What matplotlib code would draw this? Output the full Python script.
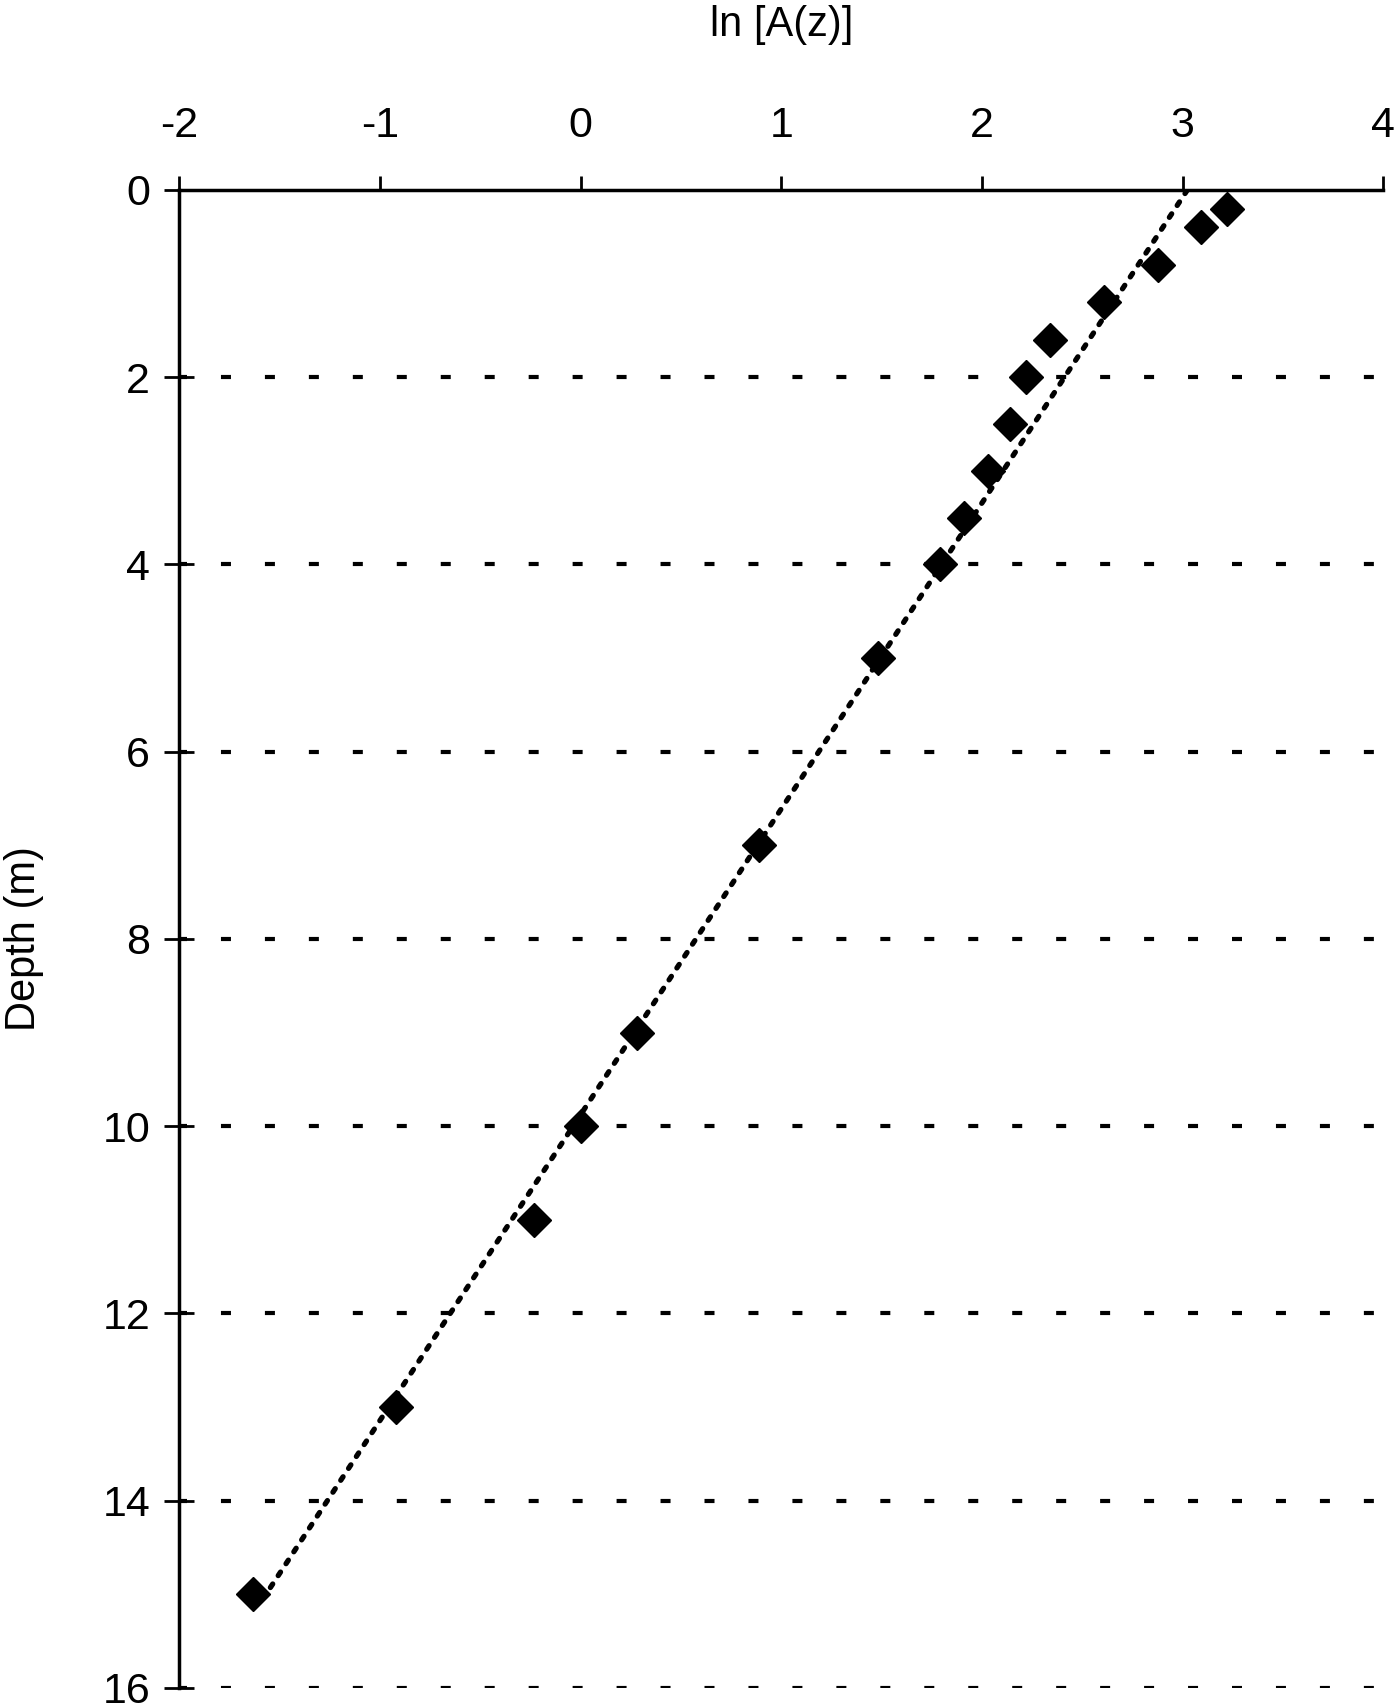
import numpy as np
import matplotlib
matplotlib.use("Agg")
import matplotlib.pyplot as plt

plt.rcParams['font.family'] = ['Liberation Sans', 'DejaVu Sans']
plt.rcParams['axes.unicode_minus'] = False

depth = [0.2, 0.4, 0.8, 1.2, 1.6, 2.0, 2.5, 3.0, 3.5, 4.0, 5.0, 7.0, 9.0, 10.0, 11.0, 13.0, 15.0]
ln_a = [3.22, 3.09, 2.88, 2.61, 2.34, 2.22, 2.14, 2.03, 1.91, 1.79, 1.48, 0.89, 0.28, 0.0, -0.23, -0.92, -1.63]

x_ticks = [-2, -1, 0, 1, 2, 3, 4]
y_ticks = [0, 2, 4, 6, 8, 10, 12, 14, 16]
fit_range = [0, 15]

fig = plt.figure(figsize=(14, 17.04), dpi=100)
ax = fig.add_axes([0.128, 0.0094, 0.86, 0.8791])

# linear trend of ln A against depth
slope, icpt = np.polyfit(depth, ln_a, 1)
zz = np.array(fit_range, dtype=float)
ax.plot(icpt + slope * zz, zz, color='black', lw=3.8, linestyle=(0, (0.8, 1.9)),
        dash_capstyle='round', zorder=2)

ax.plot(ln_a, depth, linestyle='none', marker='D', ms=17, color='black', zorder=3)

# dashed horizontal grid
for yy in y_ticks[1:]:
    ax.axhline(yy, color='black', lw=3, linestyle=(0.48, (2.4, 8.15)), zorder=1)

ax.set_xlim(-2, 4)
ax.set_ylim(16, 0)
ax.set_xticks(x_ticks)
ax.set_yticks(y_ticks)
ax.xaxis.tick_top()
ax.xaxis.set_label_position('top')
ax.tick_params(axis='x', direction='out', length=10, width=2, labelsize=31, pad=22)
ax.tick_params(axis='y', direction='inout', length=22, width=2, labelsize=31, pad=10)

for s in ['right', 'bottom']:
    ax.spines[s].set_visible(False)
ax.spines['top'].set_linewidth(2.5)
ax.spines['left'].set_linewidth(2.5)

ax.set_xlabel('ln [A(z)]', fontsize=30, labelpad=50)
ax.set_ylabel('Depth (m)', fontsize=30, labelpad=42)

fig.savefig('out.png', dpi=100)
